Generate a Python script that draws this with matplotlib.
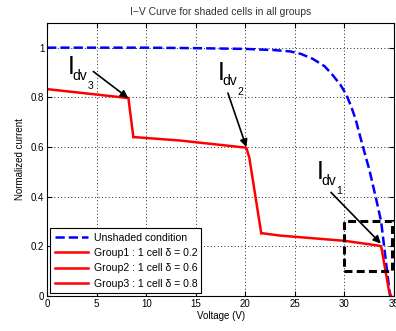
#I-V curve for shaded cells in all groups
import matplotlib
matplotlib.use('Agg')
import matplotlib.pyplot as plt
import matplotlib.patches as patches

plt.rcParams['font.family'] = ['Liberation Sans', 'DejaVu Sans']

#Unshaded curve (voltage, normalized current)
v_unshaded = [0, 5, 10, 15, 20, 23, 24.5, 25.6, 26.8, 28.0, 28.8, 29.6, 30.2,
              30.7, 31.1, 31.4, 31.8, 32.5, 33.2, 33.7, 34.0, 34.3, 34.6]
i_unshaded = [1.0, 1.0, 1.0, 0.998, 0.995, 0.99, 0.985, 0.975, 0.955, 0.925,
              0.89, 0.85, 0.81, 0.76, 0.715, 0.67, 0.61, 0.51, 0.39, 0.30,
              0.20, 0.10, 0.0]

#Shaded groups, one segment each
v_group3 = [0, 8.2, 8.7]
i_group3 = [0.833, 0.797, 0.64]
v_group2 = [8.7, 13.4, 20.1, 20.4, 21.6]
i_group2 = [0.64, 0.626, 0.597, 0.557, 0.253]
v_group1 = [21.6, 23.5, 30.0, 33.2, 33.7, 34.5, 34.7]
i_group1 = [0.253, 0.243, 0.222, 0.204, 0.20, 0.02, 0.0]

labels = ['Unshaded condition',
          'Group1 : 1 cell \u03b4 = 0.2',
          'Group2 : 1 cell \u03b4 = 0.6',
          'Group3 : 1 cell \u03b4 = 0.8']

#Knee labels: (text x, text y, subscript, arrow tail, arrow head)
knees = [(2.05, 0.893, '3', (4.66, 0.904), (8.18, 0.797)),
         (17.2, 0.871, '2', (18.24, 0.817), (20.1, 0.60)),
         (27.2, 0.471, '1', (28.64, 0.417), (33.67, 0.211))]

fig = plt.figure(figsize=(3.96, 3.31), dpi=100)
ax = fig.add_axes([0.119, 0.106, 0.876, 0.825])

ax.plot(v_unshaded, i_unshaded, 'b--', lw=1.8, label=labels[0])
ax.plot(v_group1, i_group1, 'r-', lw=1.8, label=labels[1])
ax.plot(v_group2, i_group2, 'r-', lw=1.8, label=labels[2])
ax.plot(v_group3, i_group3, 'r-', lw=1.8, label=labels[3])

#Zoom box around the last knee
ax.add_patch(patches.Rectangle((30, 0.1), 4.8, 0.2, fill=False, ec='k',
                               lw=2.2, ls=(0, (2.6, 1.4)), zorder=4))

#Arrows and labels
arrow = dict(arrowstyle='-|>', color='k', lw=1.2, mutation_scale=11,
             shrinkA=0, shrinkB=0)
for tx, ty, sub, tail, head in knees:
    ax.annotate('', xy=head, xytext=tail, arrowprops=arrow)
    ax.annotate('I', xy=(tx, ty), fontsize=18, va='baseline')
    ax.annotate('dv', xy=(tx, ty), xytext=(3.2, -4), textcoords='offset points',
                fontsize=10, va='baseline')
    ax.annotate(sub, xy=(tx, ty), xytext=(14.2, -10.8), textcoords='offset points',
                fontsize=7.5, va='baseline')

ax.set_xlim(0, 35)
ax.set_ylim(0, 1.1)
ax.set_xticks(range(0, 36, 5))
ax.set_yticks([0, 0.2, 0.4, 0.6, 0.8, 1])
ax.set_yticklabels(['0', '0.2', '0.4', '0.6', '0.8', '1'])
ax.tick_params(direction='in', top=True, right=True, labelsize=7, pad=2)
ax.grid(True, ls=(0, (1, 2.5)), color='0.15', lw=0.7)

ax.set_xlabel('Voltage (V)', fontsize=7, labelpad=2)
ax.set_ylabel('Normalized current', fontsize=7, labelpad=4)
ax.set_title('I\u2212V Curve for shaded cells in all groups', fontsize=7.5,
             pad=6, color='0.2')

leg = ax.legend(loc='lower left', fontsize=7.6, fancybox=False, framealpha=1,
                edgecolor='k', handlelength=3.2, borderaxespad=0.3,
                labelspacing=0.5, borderpad=0.4, handletextpad=0.5)
leg.get_frame().set_linewidth(0.8)

plt.savefig('out.png', dpi=100)
